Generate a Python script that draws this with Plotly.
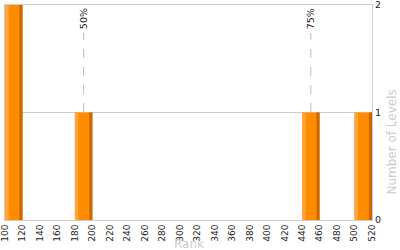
import plotly.graph_objects as go

bin_starts = [100, 180, 440, 500]
counts = [2, 1, 1, 1]
bin_width = 20
x_ticks = list(range(100, 521, 20))
y_ticks = [0, 1, 2]
pct_labels = ["50%", "75%"]
pct_positions = [190, 450]

font = "DejaVu Sans"
fig = go.Figure()

# dashed percentile lines (behind bars)
for lab, px in zip(pct_labels, pct_positions):
    fig.add_shape(type="line", x0=px, x1=px, y0=0, y1=1.74, xref="x", yref="y",
                  line=dict(color="#bbbbbb", width=1, dash="dash"), layer="below")
    fig.add_annotation(x=px, y=2, xref="x", yref="y", text=lab, showarrow=False,
                       textangle=-90, yanchor="top", xanchor="center",
                       font=dict(family=font, size=9.5, color="#222"), yshift=-1)

fig.add_trace(go.Bar(x=bin_starts, y=counts, width=bin_width, offset=0,
                     marker=dict(color="#ff8c00", line=dict(width=0)), showlegend=False))
fig.add_trace(go.Bar(x=bin_starts, y=counts, width=4, offset=0,
                     marker=dict(color="#ffa43a", line=dict(width=0)), showlegend=False))
fig.add_trace(go.Bar(x=bin_starts, y=counts, width=3.5, offset=bin_width - 3.5,
                     marker=dict(color="#c96800", line=dict(width=0)), showlegend=False))

# axis titles
fig.add_annotation(x=0.5, y=-30 / 215, xref="paper", yref="paper", text="Rank", showarrow=False,
                   yanchor="bottom", yshift=-3, font=dict(family=font, size=12, color="#cccccc"))
fig.add_annotation(x=1, xshift=20, y=0.36, xref="paper", yref="paper", text="Number of Levels",
                   showarrow=False, textangle=-90, xanchor="center", yanchor="middle",
                   font=dict(family=font, size=12, color="#cccccc"))

fig.update_layout(
    width=400, height=250, barmode="overlay",
    margin=dict(l=5, r=28, t=5, b=30),
    plot_bgcolor="white", paper_bgcolor="white",
    font=dict(family=font, size=9.5, color="#222"),
    xaxis=dict(range=[100, 520], tickvals=x_ticks, ticktext=[str(v) for v in x_ticks],
               tickangle=-90, showgrid=False, zeroline=False, automargin=False,
               ticklabeloverflow="allow", ticklabelstandoff=0,
               showline=True, linecolor="#cccccc", mirror=True, ticks="",
               tickfont=dict(size=9, color="#222")),
    yaxis=dict(range=[0, 2], tickvals=y_ticks, side="right", showgrid=True,
               gridcolor="#cccccc", zeroline=False, showline=True, linecolor="#cccccc",
               mirror=True, ticks="", automargin=False, ticklabeloverflow="allow",
               tickfont=dict(size=9.5, color="#222")),
)

fig.write_html("out.html")
